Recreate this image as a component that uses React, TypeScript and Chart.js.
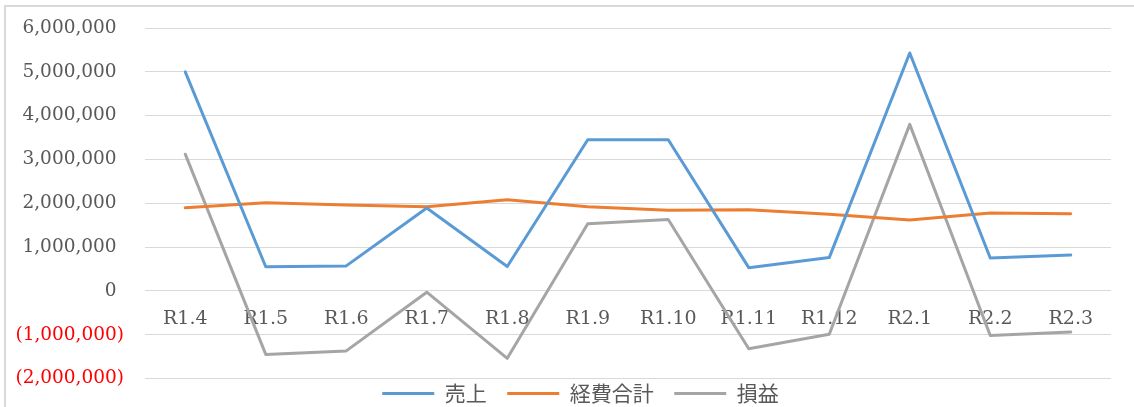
import React, { useEffect, useRef } from "react";
import { Chart, registerables } from "chart.js";

Chart.register(...registerables);

const categories = ["R1.4", "R1.5", "R1.6", "R1.7", "R1.8", "R1.9", "R1.10", "R1.11", "R1.12", "R2.1", "R2.2", "R2.3"];
const seriesNames = ["売上", "経費合計", "損益"];
const sales = [5000000, 550000, 570000, 1890000, 555000, 3450000, 3450000, 530000, 760000, 5430000, 750000, 820000];
const expenses = [1895000, 2010000, 1960000, 1920000, 2080000, 1920000, 1840000, 1850000, 1750000, 1620000, 1780000, 1760000];
const profit = [3120000, -1450000, -1370000, -30000, -1540000, 1530000, 1630000, -1320000, -990000, 3800000, -1020000, -940000];
const yMin = -2000000;
const yMax = 6000000;
const yStep = 1000000;

const colors = ["#5B9BD5", "#ED7D31", "#A5A5A5"];
const textGray = "#595959";

export default function App() {
  const ref = useRef<HTMLCanvasElement>(null);

  useEffect(() => {
    if (!ref.current) return;
    const legendShift = {
      id: "legendShift",
      afterLayout(chart: any) {
        const lg = chart.legend;
        if (!lg) return;
        lg.top -= 16;
        lg.bottom -= 16;
        lg.left += 25;
        lg.right += 25;
      },
    };
    const chart = new Chart(ref.current, {
      type: "line",
      data: {
        labels: categories,
        datasets: [sales, expenses, profit].map((d, i) => ({
          label: seriesNames[i],
          data: d,
          borderColor: colors[i],
          backgroundColor: colors[i],
          borderWidth: 3,
          pointRadius: 0,
          pointHoverRadius: 0,
          tension: 0,
          borderJoinStyle: "round" as const,
          borderCapStyle: "round" as const,
          fill: false,
        })),
      },
      options: {
        responsive: false,
        maintainAspectRatio: false,
        animation: false,
        events: [],
        layout: { padding: { left: 0, right: 23, top: 28, bottom: 0 } },
        plugins: {
          tooltip: { enabled: false },
          legend: {
            position: "bottom",
            align: "center",
            labels: {
              usePointStyle: true,
              pointStyle: "line",
              pointStyleWidth: 52,
              padding: 20.5,
              color: textGray,
              font: { family: "'Noto Sans CJK JP'", size: 21 },
            },
          },
        },
        scales: {
          y: {
            min: yMin,
            max: yMax,
            afterFit: (s: any) => {
              s.width = 145;
              s.paddingTop = 11;
              s.paddingBottom = 11;
            },
            border: { display: false },
            grid: { color: "#D9D9D9", lineWidth: 1, drawTicks: false },
            ticks: {
              stepSize: yStep,
              padding: 21,
              font: { family: "'DejaVu Serif'", size: 18.5 },
              color: (ctx: any) => (ctx.tick && ctx.tick.value < 0 ? "#FF0000" : textGray),
              callback: (v: any) => {
                const n = Number(v);
                const s = Math.abs(n).toLocaleString("en-US");
                return n < 0 ? `(${s})` : s + "\u2009\u2009";
              },
            },
          },
          x: {
            type: "category",
            position: { y: 0 } as any,
            offset: true,
            border: { display: false },
            grid: { display: false, drawTicks: false },
            ticks: {
              padding: 16.6,
              autoSkip: false,
              maxRotation: 0,
              color: textGray,
              font: { family: "'DejaVu Serif'", size: 19 },
            },
          },
        },
      },
      plugins: [legendShift],
    });
    return () => chart.destroy();
  }, []);

  return (
    <div
      style={{
        position: "fixed",
        left: 0,
        top: 0,
        width: 1134,
        height: 407,
        overflow: "hidden",
        background: "#ffffff",
      }}
    >
      <div
        style={{
          position: "absolute",
          left: 4,
          top: 5,
          width: 1200,
          height: 500,
          border: "2px solid #D9D9D9",
          boxSizing: "border-box",
        }}
      />
      <canvas
        ref={ref}
        width={1134}
        height={430}
        style={{ position: "absolute", left: 0, top: 0, width: 1134, height: 430 }}
      />
    </div>
  );
}
